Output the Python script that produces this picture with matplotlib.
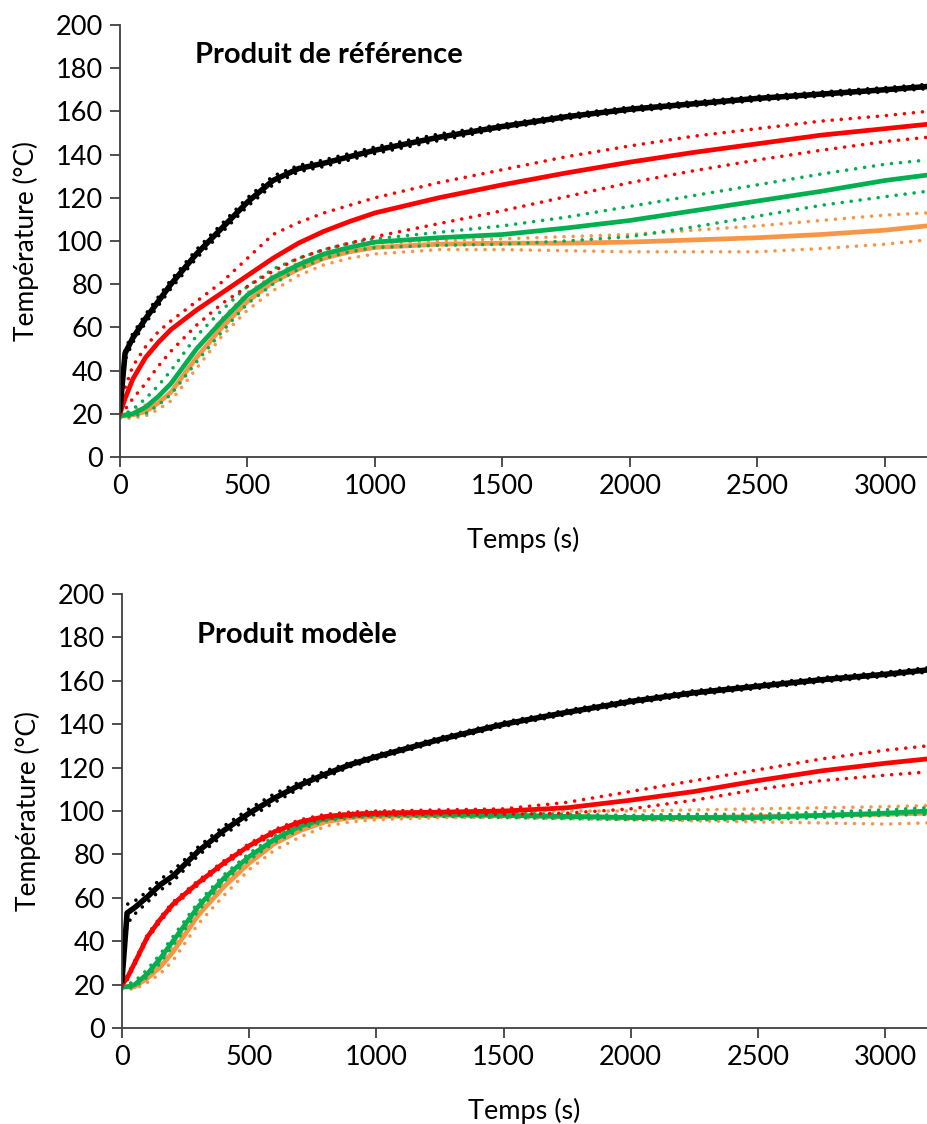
import matplotlib.pyplot as plt
import numpy as np

plt.rcParams['font.family'] = ['Lato', 'DejaVu Sans']

# temps (s) communs aux deux graphes
temps = [0, 20, 50, 100, 150, 200, 300, 400, 500, 600, 700, 800, 900, 1000,
         1250, 1500, 1750, 2000, 2250, 2500, 2750, 3000, 3165]

# Produit de référence
ref_noir = [22, 48, 55, 64, 72, 80, 94, 106, 118, 128, 133.5, 136, 139, 142,
            148, 153, 157.5, 161, 163.5, 166, 168, 170, 171.5]
ref_noir_haut = [24, 50, 57, 66, 74, 82, 96, 108, 120, 130, 135, 137.5, 140.5, 143.5,
                 149.5, 154, 158.5, 162, 164.5, 167, 169, 171, 172.5]
ref_noir_bas = [21, 45, 53, 62, 70, 78, 92, 104, 116, 126, 132, 134.5, 137.5, 140.5,
                146.5, 152, 156.5, 160, 162.5, 165, 167, 169, 170.5]
ref_rouge = [20, 27, 36, 46, 53, 59, 68, 76, 84, 92, 99, 104.5, 109, 113,
             120, 126, 131.5, 136.5, 141, 145, 149, 152, 154]
ref_rouge_haut = [20, 32, 42, 51, 58, 63, 72, 81, 92, 103, 108.5, 113, 116.5, 120,
                  127, 133, 139, 144, 148.5, 152, 155.5, 158, 160]
ref_rouge_bas = [20, 22, 27, 34, 42, 49, 61, 71, 79, 86, 92, 96, 99, 102,
                 108, 114, 120.5, 127, 132.5, 137.5, 142, 146, 148]
ref_vert = [19, 19.5, 20, 23, 28, 34, 50, 63, 75, 83, 89, 94, 97, 99.5,
            101.5, 103, 106, 109.5, 114, 118.5, 123, 128, 130.5]
ref_vert_haut = [19, 20, 22, 27, 33, 40, 56, 68, 79, 87, 92, 96, 99, 101,
                 104, 107, 111, 116, 121, 126, 131, 135.5, 137.5]
ref_vert_bas = [18, 18.5, 19, 20, 24, 29, 44, 58, 71, 80, 87, 92, 95, 97,
                98, 98.5, 100, 102, 106.5, 111.5, 116.5, 120.5, 123]
ref_orange = [19, 19, 19.5, 21, 25, 30, 46, 60, 72, 81, 87, 92, 95, 97,
              98.5, 99, 99, 99.5, 100.5, 101.5, 103, 105, 107]
ref_orange_haut = [20, 20, 21, 24, 28, 34, 50, 64, 76, 84, 90, 94, 97, 99,
                   100, 101, 102, 103, 105, 107, 109.5, 112, 113]
ref_orange_bas = [18, 18, 18, 19, 22, 26, 41, 56, 68, 77, 84, 89, 92, 94,
                  96, 96, 95.5, 95, 95, 95, 96.5, 98.5, 100.5]

# Produit modèle
mod_noir = [22, 53, 55.5, 60.5, 66, 70, 81.5, 91, 99, 106, 112, 117, 121.5, 125,
            133, 140, 145.5, 150.5, 154.5, 157.5, 160.5, 163, 165]
mod_noir_haut = [24, 57, 58.5, 63, 68.5, 72.5, 83.5, 93, 101, 108, 113.5, 118.5, 122.5, 126,
                 134, 141, 146.5, 151.5, 155.5, 158.5, 161.5, 164, 166]
mod_noir_bas = [21, 48, 52.5, 58, 63.5, 67.5, 79.5, 89, 97, 104, 110.5, 115.5, 120.5, 124,
                132, 139, 144.5, 149.5, 153.5, 156.5, 159.5, 162, 164]
mod_rouge = [20, 23, 30, 42, 50, 57, 67, 76, 84, 90.5, 95, 97.5, 98.5, 99,
             99.5, 100, 101.5, 105, 109, 114, 118.5, 122, 124]
mod_rouge_haut = [20, 24, 31, 43, 51, 58, 68, 77, 85, 91.5, 96, 98.5, 99.5, 100,
                  100.5, 101, 104, 109, 114, 119, 124, 128, 130]
mod_rouge_bas = [19, 22, 29, 41, 49, 56, 66, 75, 83, 89.5, 94, 96.5, 97.5, 98,
                 98.5, 98.5, 99, 101, 105, 110, 114, 116.5, 118]
mod_vert = [19, 19, 20, 25, 32, 40, 56, 69, 79, 87, 93, 96.5, 98, 98.5,
            98.5, 98, 97.5, 97, 97, 97, 98, 99, 100]
mod_vert_haut = [20, 20, 21.5, 27, 34, 42, 58, 70.5, 80.5, 88.5, 94.5, 97.5, 99, 99.5,
                 99.5, 99, 98.5, 98, 98.5, 98.5, 99.5, 100.5, 101.5]
mod_vert_bas = [18, 18, 19, 23.5, 30, 38, 54, 67.5, 77.5, 85.5, 91.5, 95.5, 97, 97.5,
                97.5, 97, 96.5, 96, 96, 96, 97, 98, 98.5]
mod_orange = [19, 19, 19, 23, 28, 35, 52, 65, 76, 85, 91, 95, 97, 97.5,
              98, 98, 97.5, 97, 97, 97.5, 98, 98.5, 99]
mod_orange_haut = [20, 20, 21, 25, 30, 37, 54, 67, 78, 87, 93, 96.5, 98.5, 99,
                   99.5, 100, 100, 100, 100.5, 101, 101.5, 102, 102.5]
mod_orange_bas = [18, 18, 18, 21, 25, 31, 48, 61, 73, 82, 88, 93, 95, 96,
                  97, 97, 96.5, 96, 95.5, 95, 94.5, 94, 94.5]

NOIR = '#000000'
ROUGE = '#FF0000'
VERT = '#00B050'
ORANGE = '#F79646'

fig = plt.figure(figsize=(9.27, 11.24), dpi=100)
ax1 = fig.add_axes([0.1294, 0.5934, 0.8706, 0.3844])
ax2 = fig.add_axes([0.1316, 0.0854, 0.8684, 0.3861])


def tracer(ax, series, titre, y_titre):
    for moy, haut, bas, coul in series:
        for bord in (haut, bas):
            ax.plot(temps, bord, color=coul, lw=2.6, linestyle=(0, (0.01, 2.5)),
                    dash_capstyle='round')
        ax.plot(temps, moy, color=coul, lw=4.0 if coul == NOIR else 3.4)
    ax.set_xlim(0, 3165)
    ax.set_ylim(0, 200)
    ax.set_xticks(range(0, 3001, 500))
    ax.set_yticks(range(0, 201, 20))
    for s in ['top', 'right']:
        ax.spines[s].set_visible(False)
    for s in ['left', 'bottom']:
        ax.spines[s].set_color('#404040')
        ax.spines[s].set_linewidth(1.3)
    ax.tick_params(direction='out', length=7, width=1.3, color='#404040',
                   labelsize=19.5, pad=5)
    ax.set_xlabel('Temps (s)', fontsize=19.5, labelpad=20)
    ax.set_ylabel('Température (°C)', fontsize=19, labelpad=12)
    ax.text(295, y_titre, titre, fontsize=21, fontweight='bold', va='center')


tracer(ax1, [(ref_orange, ref_orange_haut, ref_orange_bas, ORANGE),
             (ref_vert, ref_vert_haut, ref_vert_bas, VERT),
             (ref_rouge, ref_rouge_haut, ref_rouge_bas, ROUGE),
             (ref_noir, ref_noir_haut, ref_noir_bas, NOIR)],
       'Produit de référence', 186)
tracer(ax2, [(mod_orange, mod_orange_haut, mod_orange_bas, ORANGE),
             (mod_vert, mod_vert_haut, mod_vert_bas, VERT),
             (mod_rouge, mod_rouge_haut, mod_rouge_bas, ROUGE),
             (mod_noir, mod_noir_haut, mod_noir_bas, NOIR)],
       'Produit modèle', 181)

fig.savefig('out.png', dpi=100)
